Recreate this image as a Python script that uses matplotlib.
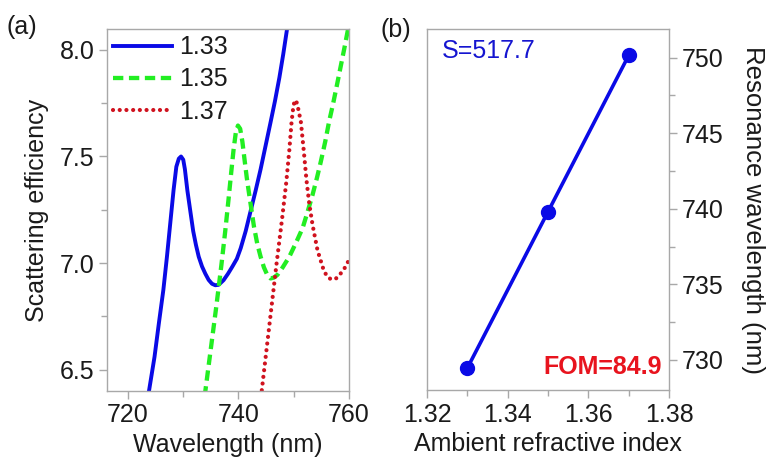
import matplotlib
matplotlib.use("Agg")
import matplotlib.pyplot as plt
from matplotlib.ticker import MultipleLocator

plt.rcParams['font.family'] = ['Liberation Sans', 'DejaVu Sans']

# ---- panel (a) data ----
wl_133 = [723.0, 723.8, 724.8, 725.6, 726.4, 727.05, 727.65, 728.25, 728.75, 729.2, 729.6,
          730.0, 730.3, 730.75, 731.3, 731.8, 732.3, 732.8, 733.4, 734.0, 734.6,
          735.2, 735.8, 736.4, 737.3, 738.1, 738.9, 739.7, 740.4, 741.3, 742.2,
          743.1, 744.0, 744.9, 745.8, 746.6, 747.4, 748.1, 748.8, 749.5]
q_133 = [6.25, 6.40, 6.56, 6.72, 6.874, 7.03, 7.187, 7.343, 7.452, 7.49, 7.50,
         7.485, 7.44, 7.34, 7.24, 7.15, 7.085, 7.03, 6.984, 6.95, 6.921,
         6.903, 6.896, 6.898, 6.92, 6.95, 6.984, 7.02, 7.07, 7.15, 7.245,
         7.34, 7.44, 7.55, 7.66, 7.76, 7.87, 7.98, 8.10, 8.22]

wl_135 = [733.6, 734.0, 735.0, 736.0, 736.9, 737.6, 738.2, 738.7, 739.1, 739.5, 739.9,
          740.3, 740.7, 741.1, 741.5, 741.9, 742.8, 743.4, 744.0, 744.6, 745.2,
          745.8, 746.4, 747.05, 748.0, 749.2, 750.4, 751.6, 752.5, 753.4, 754.2,
          754.9, 755.7, 756.4, 757.1, 757.7, 758.4, 759.1, 759.7, 760.0]
q_135 = [6.30, 6.40, 6.60, 6.80, 6.99, 7.15, 7.30, 7.43, 7.53, 7.61, 7.645,
         7.63, 7.57, 7.484, 7.40, 7.328, 7.171, 7.09, 7.03, 6.98, 6.945,
         6.928, 6.932, 6.945, 6.98, 7.03, 7.095, 7.164, 7.24, 7.32, 7.40,
         7.476, 7.57, 7.664, 7.745, 7.82, 7.91, 8.00, 8.08, 8.12]

wl_137 = [743.8, 744.2, 745.1, 746.0, 746.9, 747.9, 748.65, 749.2, 749.6, 749.95, 750.25,
          750.6, 751.0, 751.3, 751.8, 752.3, 752.8, 753.4, 754.3, 755.5, 756.3,
          757.05, 757.8, 758.55, 759.3, 760.0]
q_137 = [6.31, 6.40, 6.60, 6.80, 7.00, 7.21, 7.38, 7.53, 7.66, 7.74, 7.765,
         7.75, 7.70, 7.66, 7.53, 7.39, 7.28, 7.18, 7.06, 6.96, 6.93,
         6.922, 6.93, 6.953, 6.98, 7.015]

legend_labels = ['1.33', '1.35', '1.37']

# ---- panel (b) data ----
ri = [1.33, 1.35, 1.37]
res_wl = [729.45, 739.8, 750.15]
s_text = 'S=517.7'
fom_text = 'FOM=84.9'

spine_c = '#a8a8a8'
txt_c = '#1a1a1a'
fs = 18

fig = plt.figure(figsize=(7.67, 4.62), dpi=100)
ax1 = fig.add_axes([107/767, 1-391/462, 242/767, 362/462])
ax2 = fig.add_axes([427/767, 1-390/462, 242/767, 361/462])

# panel a
ax1.plot(wl_133, q_133, color='#0a0ae6', lw=2.8, ls='-', label=legend_labels[0])
ax1.plot(wl_135, q_135, color='#22ee22', lw=3.1, ls=(0, (2.4, 1.3)), label=legend_labels[1])
ax1.plot(wl_137, q_137, color='#d0121e', lw=3.0, ls=(0, (0.01, 1.6)),
         dash_capstyle='round', label=legend_labels[2])
ax1.set_xlim(716.2, 760)
ax1.set_ylim(6.4, 8.098)
ax1.xaxis.set_major_locator(MultipleLocator(20))
ax1.xaxis.set_minor_locator(MultipleLocator(10))
ax1.yaxis.set_major_locator(MultipleLocator(0.5))
ax1.yaxis.set_minor_locator(MultipleLocator(0.25))
ax1.yaxis.set_major_formatter(plt.FormatStrFormatter('%.1f'))
ax1.set_xlabel('Wavelength (nm)', fontsize=fs, color=txt_c, labelpad=4)
ax1.set_ylabel('Scattering efficiency', fontsize=fs, color=txt_c, labelpad=8)
leg = ax1.legend(loc='upper left', frameon=False, fontsize=fs, handlelength=2.35,
                 handletextpad=0.3, borderaxespad=0.1, borderpad=0.15, labelspacing=0.33)
for t in leg.get_texts():
    t.set_color(txt_c)

# panel b
ax2.plot(ri, res_wl, color='#0a0ae6', lw=2.6, marker='o', ms=10)
ax2.set_xlim(1.32, 1.38)
ax2.set_ylim(728.0, 751.9)
ax2.xaxis.set_major_locator(MultipleLocator(0.02))
ax2.xaxis.set_minor_locator(MultipleLocator(0.01))
ax2.yaxis.set_major_locator(MultipleLocator(5))
ax2.yaxis.set_minor_locator(MultipleLocator(2.5))
ax2.xaxis.set_major_formatter(plt.FormatStrFormatter('%.2f'))
ax2.yaxis.tick_right()
ax2.yaxis.set_label_position('right')
ax2.set_xlabel('Ambient refractive index', fontsize=fs, color=txt_c, labelpad=4)
ax2.set_ylabel('Resonance wavelength (nm)', fontsize=18.5, color=txt_c,
               rotation=270, labelpad=30)
ax2.text(0.06, 0.94, s_text, transform=ax2.transAxes, color='#1515d0',
         fontsize=fs, ha='left', va='center')
ax2.text(0.97, 0.065, fom_text, transform=ax2.transAxes, color='#e8141e',
         fontsize=fs, fontweight='bold', ha='right', va='center')

for ax in (ax1, ax2):
    for sp in ax.spines.values():
        sp.set_color(spine_c)
        sp.set_linewidth(1.0)
    ax.tick_params(which='major', direction='out', length=6, width=1.0,
                   color=spine_c, labelsize=fs, labelcolor=txt_c, pad=3)
    ax.tick_params(which='minor', direction='out', length=4, width=1.0, color=spine_c)

fig.text(7/767, 1-27/462, '(a)', fontsize=18, color=txt_c, va='center', ha='left')
fig.text(380/767, 1-30/462, '(b)', fontsize=18, color=txt_c, va='center', ha='left')

fig.savefig('out.png', dpi=100)
